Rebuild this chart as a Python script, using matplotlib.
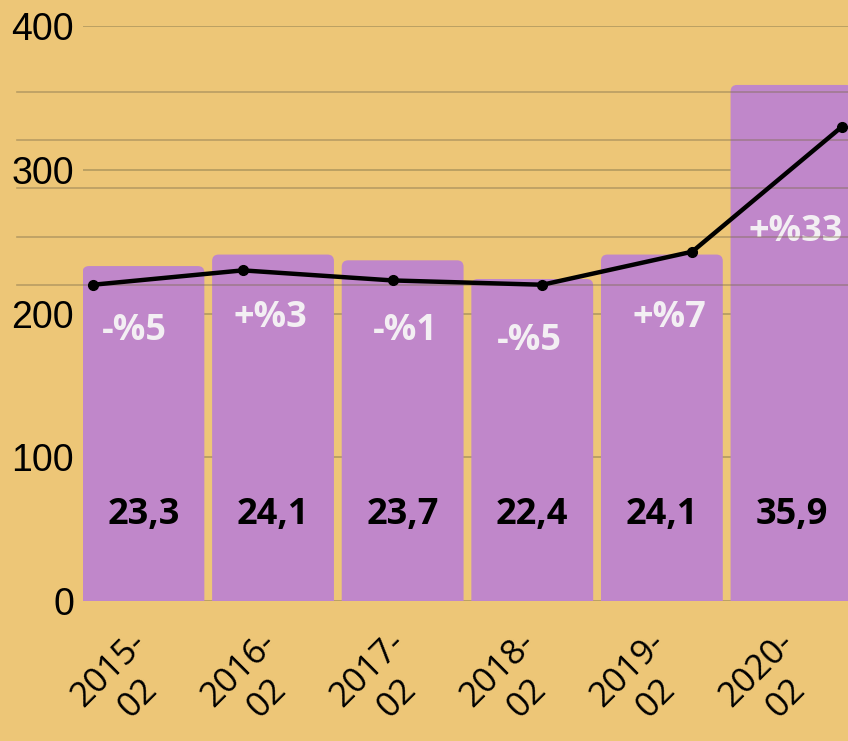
import matplotlib.pyplot as plt
from matplotlib.patches import FancyBboxPatch
from matplotlib.transforms import ScaledTranslation

# data
periods = ['2015-\n02', '2016-\n02', '2017-\n02', '2018-\n02', '2019-\n02', '2020-\n02']
bar_values = [23.3, 24.1, 23.7, 22.4, 24.1, 35.9]
bar_labels = ['23,3', '24,1', '23,7', '22,4', '24,1', '35,9']
line_values = [220, 230, 223, 220, 243, 330]
pct_labels = ['-%5', '+%3', '-%1', '-%5', '+%7', '+%33']
pct_label_y = [188, 197, 188, 181, 197, 257]
pct_label_dx = [-0.07, -0.02, 0.02, -0.02, 0.06, 0.03]
bar_grid = [220, 253, 287, 320.5, 354]
y_ticks = [0, 100, 200, 300, 400]

bg = '#edc677'
purple = '#c087ca'

fig = plt.figure(figsize=(8.48, 7.41), dpi=100, facecolor=bg)
ax = fig.add_axes([82.5 / 848, 140 / 741, 1 - 82.5 / 848, 575 / 741])
ax.set_facecolor(bg)

x = list(range(len(periods)))
ax.set_xlim(-0.47, 5.436)
ax.set_ylim(0, 400)

# bars (scaled x10 onto the left axis), with rounded tops
bars = ax.bar(x, [v * 10 for v in bar_values], width=0.94, color=purple, zorder=2)
for r in bars:
    fb = FancyBboxPatch((r.get_x(), -20), r.get_width(), r.get_height() + 20,
                        boxstyle='round,pad=0,rounding_size=0.05',
                        mutation_aspect=90, facecolor=purple, edgecolor='none',
                        zorder=2)
    ax.add_patch(fb)
    r.remove()

ax.set_yticks(y_ticks)
ax.grid(axis='y', color='#b39a60', lw=1.2, zorder=0)
ax.set_axisbelow(True)
for s in ax.spines.values():
    s.set_visible(False)
ax.tick_params(length=0)
ax.tick_params(axis='y', labelsize=27, pad=6)
for t in ax.get_yticklabels():
    t.set_family('Liberation Sans')

ax.set_xticks(x)
ax.set_xticklabels(periods, rotation=45, ha='center', fontsize=25,
                   family='Open Sans', linespacing=1.25)
ax.tick_params(axis='x', pad=18)
off = ScaledTranslation(-20 / 100, 0, fig.dpi_scale_trans)
for t in ax.get_xticklabels():
    t.set_transform(t.get_transform() + off)

for i, lab in enumerate(bar_labels):
    ax.text(i, 60, lab, ha='center', va='center', fontsize=26,
            fontweight='bold', family='Open Sans', color='black', zorder=3)
    ax.text(i + pct_label_dx[i], pct_label_y[i], pct_labels[i], ha='center',
            va='center', fontsize=26, fontweight='bold', family='Open Sans',
            color='#f3eff3', zorder=3)

# line on its own x scale
ax2 = ax.twiny()
ax2.set_xlim(-0.07, 5.04)
ax2.set_ylim(0, 400)
for yv in bar_grid:
    ax2.axhline(yv, xmin=-0.085, xmax=1, color='#7a6a4a', alpha=0.45, lw=1.2,
                clip_on=False, zorder=1)
ax2.plot(x, line_values, color='black', lw=3.2, marker='o', markersize=7,
         clip_on=False, zorder=4)
ax2.set_xticks([])
for s in ax2.spines.values():
    s.set_visible(False)

fig.savefig('out.png', dpi=100, facecolor=bg)
